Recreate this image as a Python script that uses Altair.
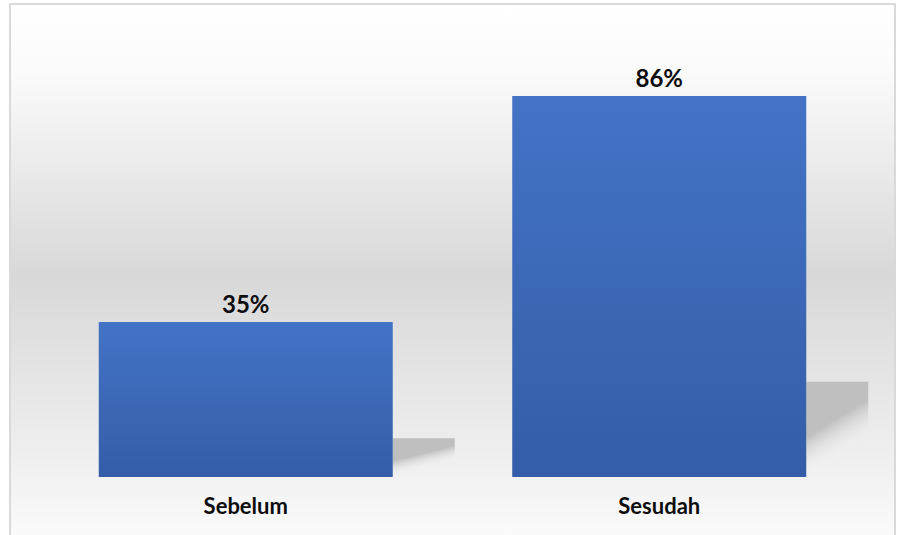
import altair as alt
import pandas as pd

categories = ["Sebelum", "Sesudah"]
values = [35, 86]
labels = ["35%", "86%"]

df = pd.DataFrame({"cat": categories, "value": values, "label": labels})

W, H = 827, 443
PAD = {"left": 39, "top": 34, "right": 31, "bottom": 58}
FONT = "Lato"

x_enc = alt.X("cat:N", sort=categories,
              scale=alt.Scale(paddingInner=0.289, paddingOuter=0.1445),
              axis=alt.Axis(title=None, labelAngle=0, ticks=False, domain=False, zindex=1,
                            labelFont=FONT, labelFontSize=22, labelFontWeight="bold",
                            labelColor="#0d0d0d", labelPadding=19))
y_scale = alt.Scale(domain=[0, 100])

bg = alt.Chart(alt.Data(values=[{}])).mark_rect(
    color=alt.Gradient(gradient="linear", x1=0, x2=0, y1=0, y2=1,
                       stops=[alt.GradientStop(offset=0, color="#ffffff"),
                              alt.GradientStop(offset=0.12, color="#fbfbfb"),
                              alt.GradientStop(offset=0.5, color="#d8d8d8"),
                              alt.GradientStop(offset=0.85, color="#f0f0f0"),
                              alt.GradientStop(offset=1, color="#fcfcfc")]),
    stroke="#d9d9d9", strokeWidth=2, clip=False,
).encode(x=alt.value(-29), x2=alt.value(W + 29),
         y=alt.value(-30), y2=alt.value(H + 70))

shadow = alt.Chart(df).transform_calculate(
    sh="datum.value * 0.25"
).mark_bar(
    width=62, xOffset=178,
    color=alt.Gradient(gradient="linear", x1=0.2, y1=0.5, x2=0.345, y2=0.862,
                       stops=[alt.GradientStop(offset=0, color="#bfbfbf"),
                              alt.GradientStop(offset=1, color="rgba(245,245,245,0)")]),
).encode(x=x_enc, y=alt.Y("sh:Q", scale=y_scale, axis=None))

bars = alt.Chart(df).mark_bar(
    color=alt.Gradient(gradient="linear", x1=0, x2=0, y1=0, y2=1,
                       stops=[alt.GradientStop(offset=0, color="#4473C6"),
                              alt.GradientStop(offset=1, color="#335DA8")]),
).encode(x=x_enc, y=alt.Y("value:Q", scale=y_scale, axis=None))

text = alt.Chart(df).mark_text(
    baseline="bottom", dy=-4, font=FONT, fontSize=24, fontWeight="bold", color="#0d0d0d"
).encode(x=x_enc, y=alt.Y("value:Q", scale=y_scale, axis=None), text="label:N")

chart = alt.layer(bg, shadow, bars, text).properties(
    width=W, height=H, padding=PAD, autosize=alt.AutoSizeParams(type="none"),
    background="#ffffff",
).configure_view(stroke=None).configure_axis(grid=False)

chart.save("out.html", embed_options={"renderer": "svg", "actions": False})
